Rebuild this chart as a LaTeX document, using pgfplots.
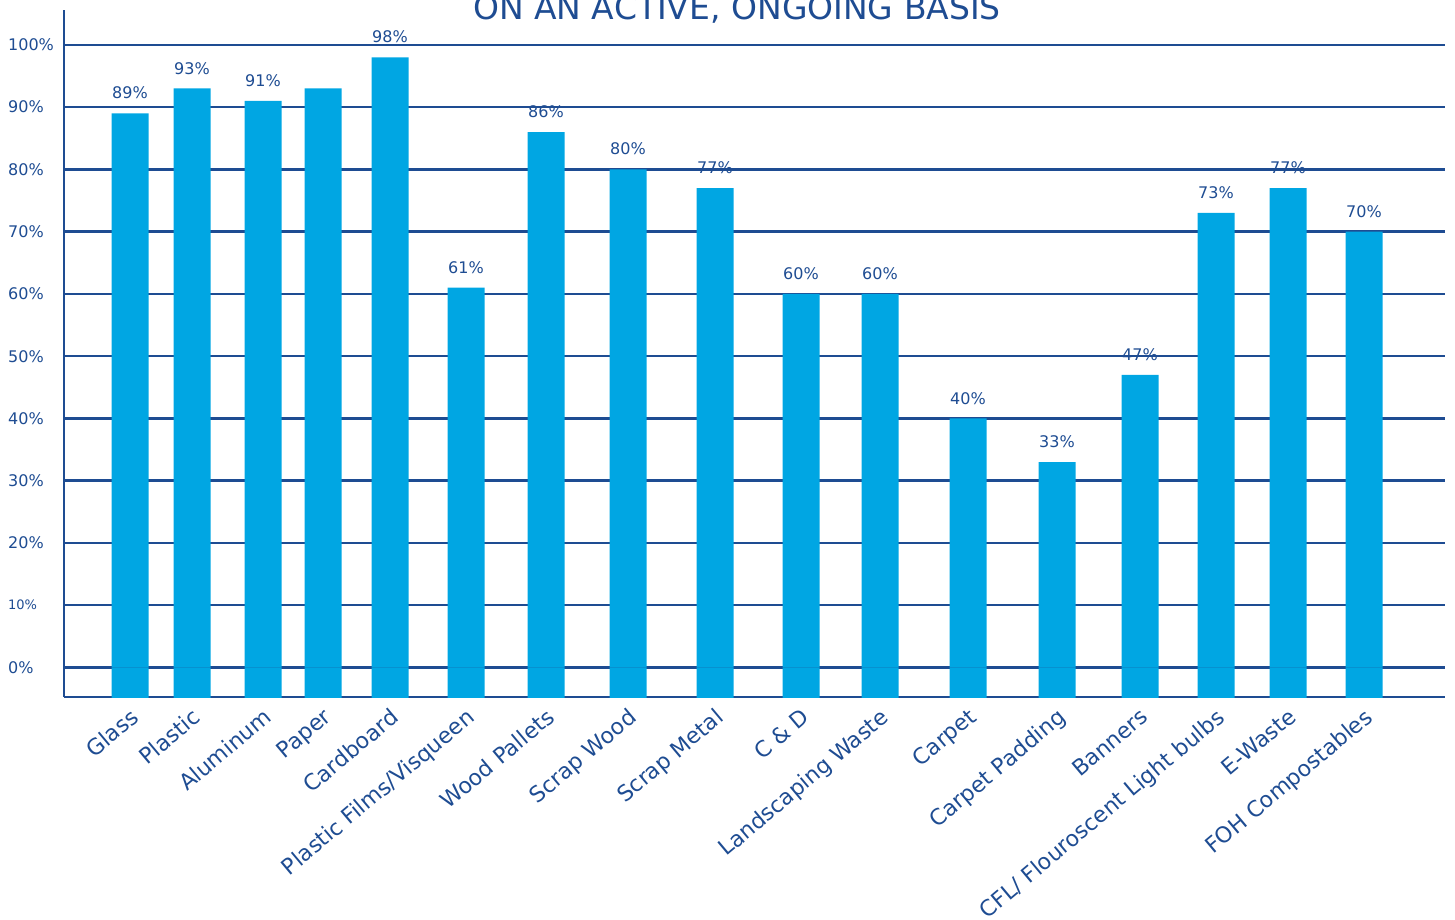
\documentclass[border=0pt]{standalone}
\usepackage{pgfplots}
\pgfplotsset{compat=1.18}
\usepackage{fontspec}
\setmainfont{DejaVu Sans}
\definecolor{barblue}{RGB}{0,166,227}
\definecolor{darkblue}{RGB}{30,76,146}
\begin{document}
\begin{tikzpicture}[x=1pt,y=1pt]
\begin{axis}[
  at={(64pt,-697pt)}, anchor=south west,
  scale only axis, width=1381pt, height=687pt,
  xmin=64, xmax=1445, ymin=-4.74, ymax=105.6,
  /pgf/number format/assume math mode=true,
  axis x line*=bottom, axis y line*=left,
  axis line style={darkblue, line width=2.5pt, -},
  ymajorgrids, grid style={darkblue, line width=2.5pt},
  major tick length=0pt,
  ytick={0,10,20,30,40,50,60,70,80,90,100},
  yticklabels={0\%,{\fontsize{13}{13}\selectfont 10\%},20\%,30\%,40\%,50\%,60\%,70\%,80\%,90\%,100\%},
  yticklabel style={anchor=west, inner sep=0pt, xshift=-56pt, text=darkblue, font=\fontsize{16}{16}\selectfont},
  xtick={130,192,263,323,390,466,546,628,715,801,880,968,1057,1140,1216,1288,1364},
  xticklabels={Glass,Plastic,Aluminum,Paper,Cardboard,Plastic Films/Visqueen,Wood Pallets,Scrap Wood,Scrap Metal,C \& D,Landscaping Waste,Carpet,Carpet Padding,Banners,CFL/ Flouroscent Light bulbs,E-Waste,FOH Compostables},
  xticklabel style={rotate=40, anchor=north east, inner sep=0pt, xshift=-7pt, yshift=-7pt, text=darkblue, font=\fontsize{22}{22}\selectfont},
]
% bars (values)
\addplot[ybar, bar width=37pt, bar shift=0pt, fill=barblue, draw=none] coordinates {
  (130,89) (192,93) (263,91) (323,93) (390,98) (466,61) (546,86) (628,80) (715,77)
  (801,60) (880,60) (968,40) (1057,33) (1140,47) (1216,73) (1288,77) (1364,70)};
% bar extension below 0 down to the axis line
\addplot[ybar, bar width=37pt, bar shift=0pt, fill=barblue, draw=none] coordinates {
  (130,-10) (192,-10) (263,-10) (323,-10) (390,-10) (466,-10) (546,-10) (628,-10) (715,-10)
  (801,-10) (880,-10) (968,-10) (1057,-10) (1140,-10) (1216,-10) (1288,-10) (1364,-10)};
% value labels (Paper has none in the original)
\addplot[draw=none, mark=none, point meta=y,
  nodes near coords={\pgfmathprintnumber[assume math mode=true]{\pgfplotspointmeta}\%},
  nodes near coords style={anchor=south, inner sep=0pt, yshift=14pt, text=darkblue, font=\fontsize{16}{16}\selectfont}]
  coordinates {
  (130,89) (192,93) (263,91) (390,98) (466,61) (546,86) (628,80) (715,77)
  (801,60) (880,60) (968,40) (1057,33) (1140,47) (1216,73) (1288,77) (1364,70)};
\end{axis}
\node[anchor=base, text=darkblue, font=\fontsize{33}{33}\selectfont] at (737pt,-20pt) {ON AN ACTIVE, ONGOING BASIS};
\pgfresetboundingbox
\useasboundingbox (0,0) rectangle (1455pt,-920pt);
\end{tikzpicture}
\end{document}
